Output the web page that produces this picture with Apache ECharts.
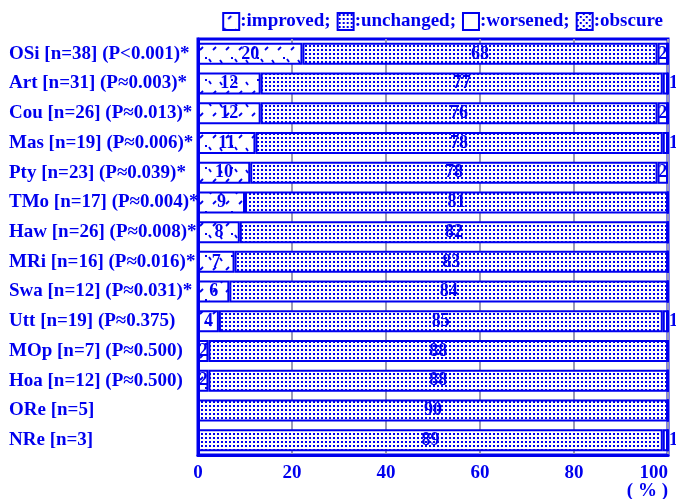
<!DOCTYPE html>
<html><head><meta charset="utf-8">
<script src="https://cdn.jsdelivr.net/npm/echarts@6/dist/echarts.min.js"></script>
<style>html,body{margin:0;padding:0;background:#fff}#c{width:676px;height:499px}</style>
</head><body><div id="c"></div>
<script>
const categories = ['OSi [n=38] (P<0.001)*', 'Art [n=31] (P≈0.003)*', 'Cou [n=26] (P≈0.013)*', 'Mas [n=19] (P≈0.006)*', 'Pty [n=23] (P≈0.039)*', 'TMo [n=17] (P≈0.004)*', 'Haw [n=26] (P≈0.008)*', 'MRi [n=16] (P≈0.016)*', 'Swa [n=12] (P≈0.031)*', 'Utt [n=19] (P≈0.375)', 'MOp [n=7] (P≈0.500)', 'Hoa [n=12] (P≈0.500)', 'ORe [n=5]', 'NRe [n=3]'];
const improved  = [20, 12, 12, 11, 10, 9, 8, 7, 6, 4, 2, 2, 0, 0];
const unchanged = [68, 77, 76, 78, 78, 81, 82, 83, 84, 85, 88, 88, 90, 89];
const worsened  = [2, 1, 2, 1, 2, 0, 0, 0, 0, 1, 0, 0, 0, 1];
const obscure   = [0, 0, 0, 0, 0, 0, 0, 0, 0, 0, 0, 0, 0, 0];
const seriesNames = ['improved', 'unchanged', 'worsened', 'obscure'];
const xTicks = [0, 20, 40, 60, 80, 100];

const BLUE = '#0000ee';
const FONT = '"Liberation Serif", "DejaVu Serif", serif';

function tile(w, h, draw) {
  const c = document.createElement('canvas');
  c.width = w; c.height = h;
  const g = c.getContext('2d');
  g.fillStyle = '#fff'; g.fillRect(0, 0, w, h);
  g.fillStyle = BLUE; g.strokeStyle = BLUE;
  draw(g);
  return { image: c, repeat: 'repeat' };
}
const patImproved = tile(26, 22, g => {
  g.lineWidth = 1.8;
  const seg = (x1, y1, x2, y2) => { g.beginPath(); g.moveTo(x1, y1); g.lineTo(x2, y2); g.stroke(); };
  seg(5, 6, 8, 3); seg(18, 6, 21, 3);
  seg(1, 15, 3, 18); seg(12, 16, 14, 19);
  g.fillRect(23, 13, 2, 2);
});
const patUnchanged = tile(8, 4, g => {
  g.fillRect(1, 1, 2, 2); g.fillRect(5, 1, 2, 2);
});
const patWorsened = '#ffffff';
const patObscure = tile(6, 6, g => {
  g.fillRect(0, 0, 2, 2); g.fillRect(3, 3, 2, 2);
});
const fills = [patImproved, patUnchanged, patWorsened, patObscure];
const raw = [improved, unchanged, worsened, obscure];

const totals = categories.map((_, i) => raw.reduce((s, a) => s + a[i], 0));

const series = seriesNames.map((name, k) => ({
  name,
  type: 'bar',
  stack: 'all',
  barWidth: 22,
  itemStyle: { color: fills[k], borderColor: BLUE, borderWidth: 2 },
  label: {
    show: true,
    position: 'inside',
    color: BLUE,
    fontFamily: FONT,
    fontWeight: 'bold',
    fontSize: 18,
    formatter: p => raw[k][p.dataIndex] ? String(raw[k][p.dataIndex]) : ''
  },
  data: raw[k].map((v, i) => {
    const item = { value: v / totals[i] * 100 };
    if (k === 2 && v === 1) item.label = { offset: [8, 0] };
    return item;
  })
}));

const chart = echarts.init(document.getElementById('c'), null, { renderer: 'canvas' });
chart.setOption({
  animation: false,
  backgroundColor: '#fff',
  textStyle: { fontFamily: FONT },
  legend: {
    data: seriesNames,
    right: 8, top: 7,
    itemGap: 6,
    itemWidth: 16, itemHeight: 17,
    icon: 'rect',
    formatter: n => ':' + n + (n === 'obscure' ? '' : ';'),
    textStyle: { color: BLUE, fontFamily: FONT, fontWeight: 'bold', fontSize: 19, padding: [0, 0, 0, -4] }
  },
  grid: { left: 198, right: 8, top: 39, bottom: 44, show: true, borderColor: BLUE, borderWidth: 3, backgroundColor: 'transparent', containLabel: false, outerBoundsMode: 'none' },
  xAxis: {
    type: 'value', min: 0, max: 100, interval: 20,
    axisLine: { show: true, lineStyle: { color: BLUE, width: 3 } },
    axisTick: { show: false },
    splitLine: { show: true, lineStyle: { color: '#9a9ab4', width: 2 } },
    axisLabel: {
      color: BLUE, fontFamily: FONT, fontWeight: 'bold', fontSize: 19, margin: 9,
      alignMaxLabel: 'right',
      formatter: v => xTicks.includes(v) ? String(v) : ''
    }
  },
  yAxis: {
    type: 'category', data: categories, inverse: true,
    axisLine: { show: true, lineStyle: { color: BLUE, width: 3 } },
    axisTick: { show: false },
    splitLine: { show: false },
    axisLabel: { color: BLUE, fontFamily: FONT, fontWeight: 'bold', fontSize: 19, align: 'left', margin: 189 }
  },
  graphic: [{
    type: 'text', right: 8, top: 482,
    style: { text: '( % )', fill: BLUE, font: 'bold 19px ' + FONT }
  }],
  series
});
</script></body></html>
